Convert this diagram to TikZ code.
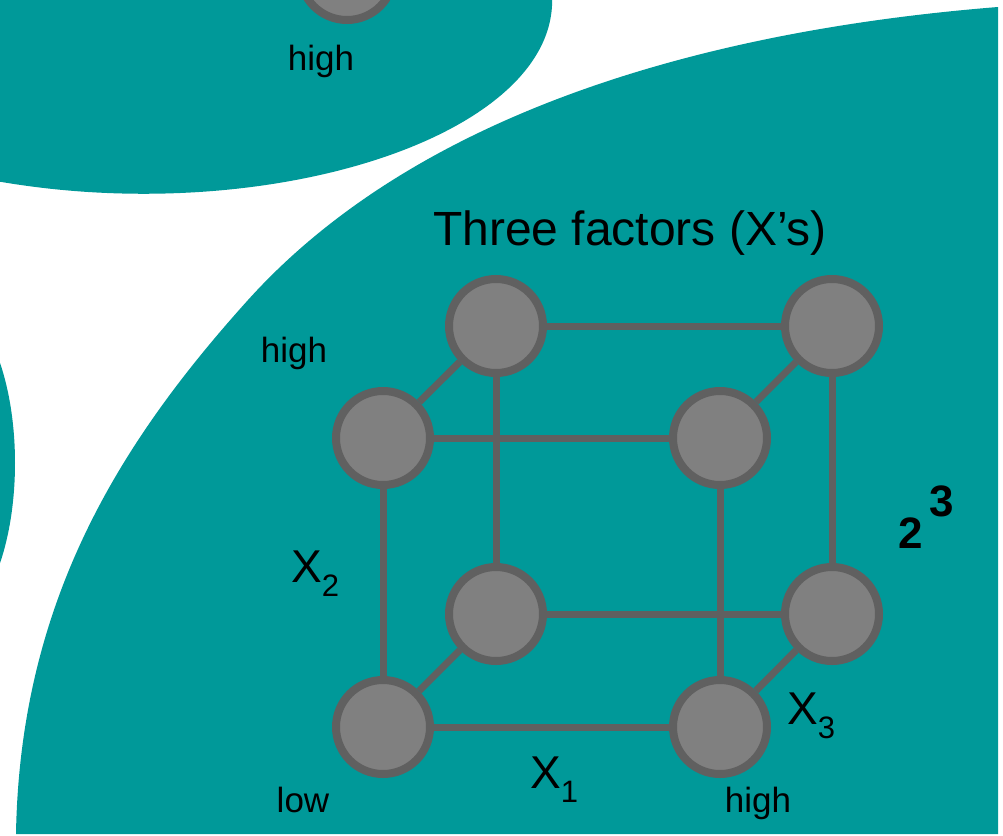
\documentclass[tikz,border=0pt]{standalone}
\usepackage{fontspec}
\setmainfont{Liberation Sans}
\definecolor{tealbg}{HTML}{009999}
\definecolor{nodefill}{HTML}{808080}
\definecolor{edgegrey}{HTML}{606060}
\newcommand{\lowsub}[1]{\raisebox{-14pt}{\fontsize{31}{31}\selectfont #1}}
\begin{document}
\begin{tikzpicture}[x=1pt,y=-1pt,
  corner/.style={circle,fill=nodefill,draw=edgegrey,line width=8pt,minimum size=94pt,inner sep=0pt},
  edge/.style={draw=edgegrey,line width=7pt},
  lbl/.style={inner sep=0pt,anchor=base,font=\fontsize{35}{40}\selectfont},
  axis/.style={inner sep=0pt,anchor=base west,font=\fontsize{46}{50}\selectfont}]
\useasboundingbox (0,0) rectangle (1003,835);
\clip (0,0) rectangle (1003,835);
\fill[white] (0,0) rectangle (1003,835);
% background shapes
\fill[tealbg] (-30,176) .. controls (250,235) and (560,140) .. (552,-5) -- (552,-20) -- (-30,-20) -- cycle;
\fill[tealbg] (-60,463) ellipse [x radius=75, y radius=167];
\fill[tealbg] (16,834) .. controls (20,600) and (121,441) .. (248,300)
  .. controls (415,115) and (698,31) .. (998,7) -- (998,834) -- cycle;
% partial node at top
\node[corner] (top) at (347,-27) {};
\node[lbl] (hightop) at (321,70) {high};
% cube nodes
\node[corner] (btl) at (496,326) {};
\node[corner] (btr) at (832,326) {};
\node[corner] (bbl) at (496,614) {};
\node[corner] (bbr) at (832,614) {};
\node[corner] (ftl) at (383,438) {};
\node[corner] (ftr) at (720,438) {};
\node[corner] (fbl) at (383,727) {};
\node[corner] (fbr) at (720,727) {};
% edges
\draw[edge] (btl) -- (btr);
\draw[edge] (btl) -- (bbl);
\draw[edge] (btr) -- (bbr);
\draw[edge] (bbl) -- (bbr);
\draw[edge] (ftl) -- (ftr);
\draw[edge] (ftl) -- (fbl);
\draw[edge] (ftr) -- (fbr);
\draw[edge] (fbl) -- (fbr);
\draw[edge] (ftl) -- (btl);
\draw[edge] (ftr) -- (btr);
\draw[edge] (fbl) -- (bbl);
\draw[edge] (fbr) -- (bbr);
% labels
\node[inner sep=0pt,anchor=base,font=\fontsize{48}{52}\selectfont] (title) at (630,245) {Three factors (X’s)};
\node[lbl] (highleft) at (294,362) {high};
\node[lbl] (low) at (303,812) {low};
\node[lbl] (highright) at (758,812) {high};
\node[axis] (x2) at (291,582) {X\lowsub{2}};
\node[axis] (x1) at (530,788) {X\lowsub{1}};
\node[axis] (x3) at (787,724) {X\lowsub{3}};
\node[inner sep=0pt,anchor=base west,font=\bfseries\fontsize{44}{48}\selectfont] (pow) at (898,548) {2\hspace{7pt}\raisebox{32pt}{3}};
\end{tikzpicture}
\end{document}
